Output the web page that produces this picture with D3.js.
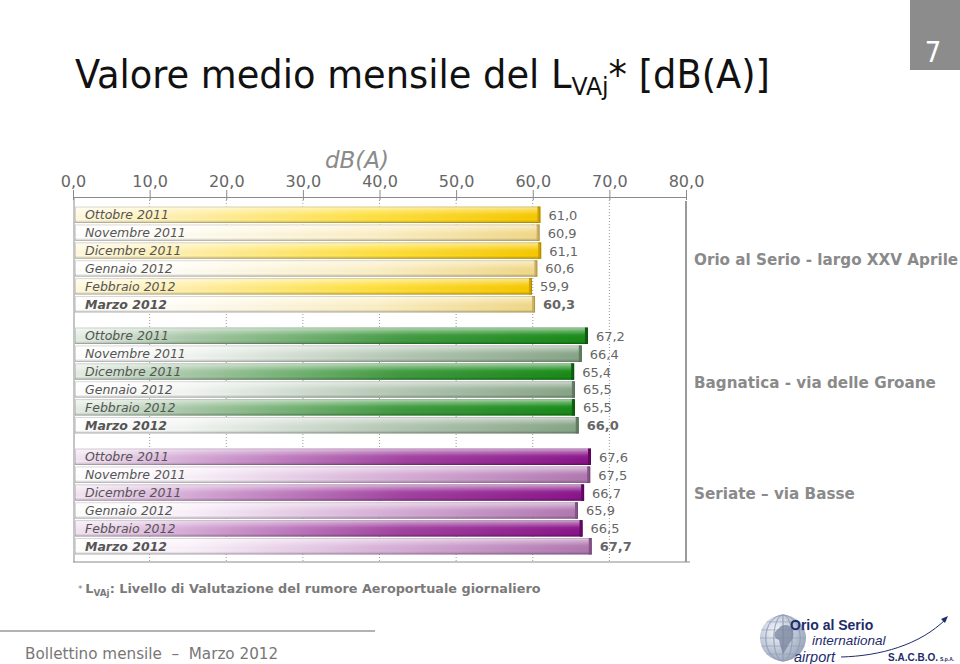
<!DOCTYPE html>
<html>
<head>
<meta charset="utf-8">
<script src="https://cdn.jsdelivr.net/npm/d3@7/dist/d3.min.js"></script>
<style>
  html, body { margin: 0; padding: 0; background: #fff; }
  svg { display: block; }
</style>
</head>
<body>
<svg id="chart" width="960" height="664"></svg>
<script>
// ---------------- DATA ----------------
const categories = ["Ottobre 2011", "Novembre 2011", "Dicembre 2011", "Gennaio 2012", "Febbraio 2012", "Marzo 2012"];
const stations = ["Orio al Serio - largo XXV Aprile", "Bagnatica - via delle Groane", "Seriate \u2013 via Basse"];
const orioValues = [61.0, 60.9, 61.1, 60.6, 59.9, 60.3];
const bagnaticaValues = [67.2, 66.4, 65.4, 65.5, 65.5, 66.0];
const seriateValues = [67.6, 67.5, 66.7, 65.9, 66.5, 67.7];
const tickValues = [0, 10, 20, 30, 40, 50, 60, 70, 80];
const axisTitle = "dB(A)";
const pageNumber = "7";

// ---------------- LAYOUT ----------------
const axisY = 197, plotBottom = 562;
const panelTops = [206, 327, 448];
const panelH = 107;
const labelYs = [260, 383, 494];
const palettes = [
  { strong: ["#fff9e2", "#fff0b0", "#ffe040", "#f6c800"], strongCap: "#cfa200",
    pale:   ["#ffffff", "#fffdf5", "#fbefc6", "#f0d888"], paleCap: "#cdb060" },
  { strong: ["#e6eee6", "#a9c8a9", "#3f9a3f", "#168a16"], strongCap: "#0d600d",
    pale:   ["#ffffff", "#f3f6f3", "#b3c6b3", "#86a486"], paleCap: "#627e62" },
  { strong: ["#f3e6f3", "#d6acd6", "#a0409f", "#8a138a"], strongCap: "#640864",
    pale:   ["#ffffff", "#faf2fa", "#d4aad4", "#b076b0"], paleCap: "#875487" }
];
const seriesValues = [orioValues, bagnaticaValues, seriateValues];

const svg = d3.select("#chart");
const defs = svg.append("defs");

const x = d3.scaleLinear().domain([0, 80]).range([73, 686]);
const fmt = v => d3.format(".1f")(v).replace(".", ",");

// Gradients
palettes.forEach((p, i) => {
  ["strong", "pale"].forEach(kind => {
    const g = defs.append("linearGradient").attr("id", `g${i}${kind}`)
      .attr("x1", "0").attr("x2", "1").attr("y1", "0").attr("y2", "0");
    const stops = p[kind];
    [0, 0.22, 0.65, 1].forEach((o, k) => g.append("stop").attr("offset", o).attr("stop-color", stops[k]));
  });
});
const gloss = defs.append("linearGradient").attr("id", "gloss")
  .attr("x1", "0").attr("x2", "0").attr("y1", "0").attr("y2", "1");
[[0, "#ffffff", 0.7], [0.15, "#ffffff", 0.4], [0.45, "#ffffff", 0.05], [0.8, "#000000", 0.0], [1, "#000000", 0.2]]
  .forEach(s => gloss.append("stop").attr("offset", s[0]).attr("stop-color", s[1]).attr("stop-opacity", s[2]));

// ---------------- TITLE ----------------
const title = svg.append("text").attr("x", 75).attr("y", 88)
  .attr("font-family", "'DejaVu Sans Condensed', 'DejaVu Sans', sans-serif")
  .attr("font-size", 39).attr("fill", "#111");
title.append("tspan").text("Valore medio mensile del L");
title.append("tspan").attr("font-size", 25).attr("dy", 7).text("VAj");
title.append("tspan").attr("dy", -7).text("* [dB(A)]");
{
  const w = title.node().getComputedTextLength();
  title.attr("transform", `translate(75,88) scale(${695 / w},1) translate(-75,-88)`);
}

// page number box
svg.append("rect").attr("x", 910).attr("y", 0).attr("width", 50).attr("height", 70).attr("fill", "#8c8c8c");
svg.append("text").attr("x", 933).attr("y", 62).attr("text-anchor", "middle")
  .attr("font-family", "'DejaVu Sans Condensed','DejaVu Sans', sans-serif").attr("font-size", 29)
  .attr("fill", "#fff").text(pageNumber);

// ---------------- AXIS ----------------
svg.append("text").attr("x", 357).attr("y", 168).attr("text-anchor", "middle")
  .attr("font-family", "'DejaVu Sans', sans-serif").attr("font-style", "italic")
  .attr("font-size", 23).attr("fill", "#8a8a8a").text(axisTitle);

// dotted gridlines
svg.append("g").selectAll("line").data(tickValues.filter(t => t > 0 && t < 80)).join("line")
  .attr("x1", d => x(d)).attr("x2", d => x(d)).attr("y1", axisY).attr("y2", plotBottom)
  .attr("stroke", "#9a9a9a").attr("stroke-width", 1).attr("stroke-dasharray", "1,2");

const axis = d3.axisTop(x).tickValues(tickValues).tickFormat(fmt).tickSizeInner(7).tickSizeOuter(0).tickPadding(3);
const ag = svg.append("g").attr("transform", `translate(0,${axisY})`).call(axis);
ag.select(".domain").attr("stroke", "#8a8a8a");
ag.selectAll(".tick line").attr("stroke", "#8a8a8a").attr("y2", 3).attr("y1", -7);
ag.selectAll(".tick text").attr("font-family", "'DejaVu Sans', sans-serif").attr("font-size", 16).attr("fill", "#666");

// frame lines
svg.append("line").attr("x1", x(0) + 1).attr("x2", x(0) + 1).attr("y1", axisY).attr("y2", plotBottom).attr("stroke", "#8a8a8a");
svg.append("line").attr("x1", x(0)).attr("x2", x(80) + 4).attr("y1", plotBottom).attr("y2", plotBottom).attr("stroke", "#8a8a8a");
svg.append("line").attr("x1", x(80)).attr("x2", x(80)).attr("y1", axisY + 4).attr("y2", plotBottom).attr("stroke", "#9a9a9a").attr("stroke-width", 2);

// ---------------- BARS ----------------
seriesValues.forEach((vals, i) => {
  const y = d3.scaleBand().domain(categories).range([panelTops[i], panelTops[i] + panelH]).paddingInner(0.08).paddingOuter(0.03);
  const g = svg.append("g");
  const rows = g.selectAll("g").data(categories.map((c, k) => ({ c, v: vals[k], k }))).join("g");
  const bx = x(0) + 2;
  rows.append("rect")
    .attr("x", bx).attr("y", d => y(d.c)).attr("width", d => x(d.v) - bx).attr("height", y.bandwidth())
    .attr("fill", d => `url(#g${i}${d.k % 2 === 0 ? "strong" : "pale"})`);
  rows.append("rect")
    .attr("x", bx).attr("y", d => y(d.c)).attr("width", d => x(d.v) - bx).attr("height", y.bandwidth())
    .attr("fill", "url(#gloss)");
  rows.append("rect")
    .attr("x", d => x(d.v) - 3).attr("y", d => y(d.c)).attr("width", 3).attr("height", y.bandwidth())
    .attr("fill", d => d.k % 2 === 0 ? palettes[i].strongCap : palettes[i].paleCap);
  rows.append("rect")
    .attr("x", bx + 0.5).attr("y", d => y(d.c) + 0.5).attr("width", d => x(d.v) - bx - 1).attr("height", y.bandwidth() - 1)
    .attr("fill", "none").attr("stroke", "#000").attr("stroke-opacity", 0.15);
  rows.append("text")
    .attr("x", 85).attr("y", d => y(d.c) + y.bandwidth() / 2 + 4.5)
    .attr("font-family", "'DejaVu Sans', sans-serif").attr("font-size", 12.5)
    .attr("font-style", "italic").attr("font-weight", d => d.k === 5 ? "bold" : "normal")
    .attr("fill", "#555").text(d => d.c);
  rows.append("text")
    .attr("x", d => x(d.v) + 8).attr("y", d => y(d.c) + y.bandwidth() / 2 + 5)
    .attr("font-family", "'DejaVu Sans', sans-serif").attr("font-size", 13)
    .attr("font-weight", d => d.k === 5 ? "bold" : "normal")
    .attr("fill", "#666").text(d => fmt(d.v));
  svg.append("text").attr("x", 694).attr("y", labelYs[i] + 5)
    .attr("font-family", "'DejaVu Sans', sans-serif").attr("font-size", 15.2).attr("font-weight", "bold")
    .attr("fill", "#8a8a8a").text(stations[i]);
});

// ---------------- FOOTNOTE ----------------
const fn = svg.append("text").attr("x", 78).attr("y", 593)
  .attr("font-family", "'DejaVu Sans', sans-serif").attr("font-size", 13).attr("font-weight", "bold").attr("fill", "#7a7a7a");
fn.append("tspan").attr("font-size", 9).attr("font-weight", "normal").attr("dy", -1).text("* ");
fn.append("tspan").attr("dy", 1).text("L");
fn.append("tspan").attr("font-size", 9).attr("dy", 3).text("VAj");
fn.append("tspan").attr("dy", -3).text(": Livello di Valutazione del rumore Aeroportuale giornaliero");
{
  const w = fn.node().getComputedTextLength();
  fn.attr("transform", `translate(78,593) scale(${463 / w},1) translate(-78,-593)`);
}

// ---------------- FOOTER ----------------
svg.append("line").attr("x1", 0).attr("x2", 375).attr("y1", 631).attr("y2", 631).attr("stroke", "#999").attr("stroke-width", 1.5);
svg.append("text").attr("x", 25).attr("y", 659).attr("xml:space", "preserve").style("white-space", "pre")
  .attr("font-family", "'DejaVu Sans', sans-serif").attr("font-size", 15.2).attr("fill", "#777")
  .text("Bollettino mensile  \u2013  Marzo 2012");

// logo
const logo = svg.append("g");
const gg = defs.append("radialGradient").attr("id", "globe").attr("cx", "0.35").attr("cy", "0.35").attr("r", "0.7");
gg.append("stop").attr("offset", 0).attr("stop-color", "#f4f6fa");
gg.append("stop").attr("offset", 1).attr("stop-color", "#9aa6bd");
const gcx = 783, gcy = 638, gr = 23;
logo.append("circle").attr("cx", gcx).attr("cy", gcy).attr("r", gr).attr("fill", "url(#globe)");
[-0.75, -0.4, 0, 0.4, 0.75].forEach(f => {
  logo.append("ellipse").attr("cx", gcx).attr("cy", gcy).attr("rx", Math.abs(f) * gr || 0.5).attr("ry", gr)
    .attr("fill", "none").attr("stroke", "#8f9bb3").attr("stroke-width", 0.6);
});
[-0.7, -0.35, 0, 0.35, 0.7].forEach(f => {
  const yy = gcy + f * gr, hw = Math.sqrt(1 - f * f) * gr;
  logo.append("line").attr("x1", gcx - hw).attr("x2", gcx + hw).attr("y1", yy).attr("y2", yy)
    .attr("stroke", "#8f9bb3").attr("stroke-width", 0.6);
});
logo.append("path").attr("d", `M${gcx - 2},${gcy - 12} q8,-3 12,4 q2,8 -4,14 q-3,6 -6,10 q-3,-8 -4,-14 q-6,-2 -4,-8 z`)
  .attr("fill", "#7d88a0").attr("opacity", 0.8);
logo.append("text").attr("x", 790).attr("y", 630).attr("font-family", "'Liberation Sans', Arial, sans-serif")
  .attr("font-weight", "bold").attr("font-size", 14).attr("fill", "#1e2c6b").text("Orio al Serio");
logo.append("text").attr("x", 812).attr("y", 645).attr("font-family", "'Liberation Sans', Arial, sans-serif")
  .attr("font-style", "italic").attr("font-size", 13.5).attr("fill", "#1e2c6b").text("international");
logo.append("text").attr("x", 794).attr("y", 662).attr("font-family", "'Liberation Sans', Arial, sans-serif")
  .attr("font-style", "italic").attr("font-size", 14.5).attr("fill", "#1e2c6b").text("airport");
logo.append("path").attr("d", "M841,657 C880,656 920,645 946,619").attr("fill", "none").attr("stroke", "#1e2c6b").attr("stroke-width", 1);
logo.append("path").attr("d", "M948,616 l-7,3 l4,4 z").attr("fill", "#1e2c6b");
logo.append("text").attr("x", 888).attr("y", 661).attr("font-family", "'Liberation Sans', Arial, sans-serif")
  .attr("font-weight", "bold").attr("font-size", 10).attr("fill", "#1e2c6b").text("S.A.C.B.O.");
logo.append("text").attr("x", 940).attr("y", 661).attr("font-family", "'Liberation Sans', Arial, sans-serif")
  .attr("font-weight", "bold").attr("font-size", 5).attr("fill", "#1e2c6b").text("S.p.A.");
</script>
</body>
</html>
